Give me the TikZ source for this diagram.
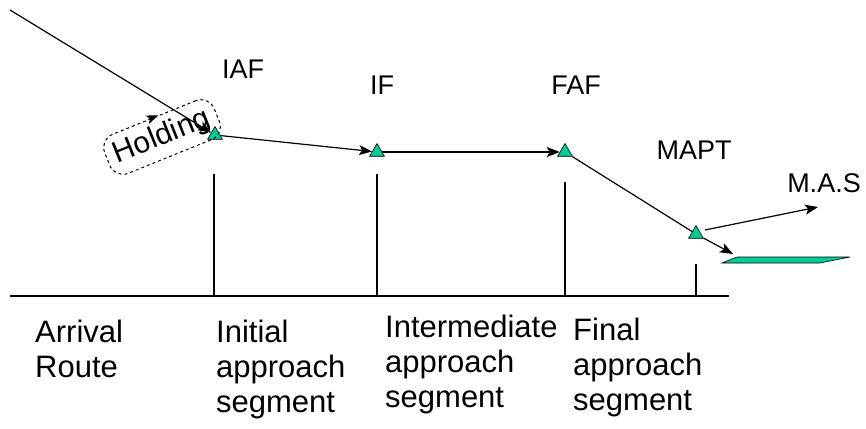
\documentclass[tikz,border=0pt]{standalone}
\usepackage{fontspec}
\setmainfont{Liberation Sans}
\usetikzlibrary{arrows.meta,calc,shapes.geometric}
\definecolor{fixgreen}{RGB}{0,204,153}
\tikzset{
	fix/.style={regular polygon, regular polygon sides=3, draw=black, line width=0.6pt, fill=fixgreen, inner sep=0pt, minimum size=17pt},
	fixlabel/.style={font=\fontsize{27}{30}\selectfont, anchor=base, inner sep=0pt},
	seglabel/.style={font=\fontsize{31}{35}\selectfont, anchor=base west, align=left, inner sep=0pt},
	route/.style={line width=1.2pt, -{Stealth[length=13pt,width=10pt,inset=3pt]}},
	holdbox/.style={draw, dashed, line width=1pt, rounded corners=14pt, minimum width=118pt, minimum height=42pt, inner sep=0pt, font=\fontsize{30}{33}\selectfont},
}

\begin{document}
\begin{tikzpicture}[x=1pt, y=-1pt]
		%%%%% START %%%%%
		\useasboundingbox (0,0) rectangle (866,428);
		
		% fixes
		\node[fix] (iaf) at (215,135) {};
		\node[fix] (if) at (377,152) {};
		\node[fix] (faf) at (565,152) {};
		\node[fix] (mapt) at (696,234) {};
		
		\node[fixlabel] (iaflabel) at (243,78) {IAF};
		\node[fixlabel] (iflabel) at (382,94) {IF};
		\node[fixlabel] (faflabel) at (576,94) {FAF};
		\node[fixlabel] (maptlabel) at (694,159) {MAPT};
		\node[fixlabel] (maslabel) at (824,192) {M.A.S};
		
		% holding pattern
		\node[holdbox, rotate=22] (hold) at (162,137) {Holding};
		\draw[line width=1pt, -{Stealth[length=12pt,width=9pt,inset=3pt]}] ($(hold.north west)!0.45!(hold.north east)$) -- ($(hold.north west)!0.54!(hold.north east)$);
		
		% flight path
		\coordinate (arr) at (10,10);
		\coordinate (rwy) at (733,254);
		\coordinate (masstart) at (705,230);
		\coordinate (masend) at (818,207);
		\draw[route] (arr) -- (iaf);
		\draw[route] (iaf) -- (if);
		\draw[route] (if) -- (faf);
		\draw[line width=1.2pt] (faf) -- (mapt);
		\draw[route] (mapt) -- (rwy);
		\draw[route] (masstart) -- (masend);
		
		% runway
		\draw[fill=fixgreen, line width=0.6pt] (722,263) -- (737,257) -- (850,257) -- (820,263) -- cycle;
		
		% ground and segment limits
		\coordinate (gl) at (10,296);
		\coordinate (gr) at (729,296);
		\draw[line width=1.2pt] (gl) -- (gr);
		\draw[line width=1.2pt] (214,174) -- (214,296);
		\draw[line width=1.2pt] (377,174) -- (377,296);
		\draw[line width=1.2pt] (565,182) -- (565,296);
		\draw[line width=1.2pt] (696,264) -- (696,296);
		
		% segment names (anchored on the last line)
		\node[seglabel] (arrival) at (35,377) {Arrival\\Route};
		\node[seglabel] (initial) at (216,412) {Initial\\approach\\segment};
		\node[seglabel] (intermediate) at (385,407) {Intermediate\\approach\\segment};
		\node[seglabel] (final) at (573,410) {Final\\approach\\segment};
		
		%%%%% END %%%%%
	\end{tikzpicture}
\end{document}
